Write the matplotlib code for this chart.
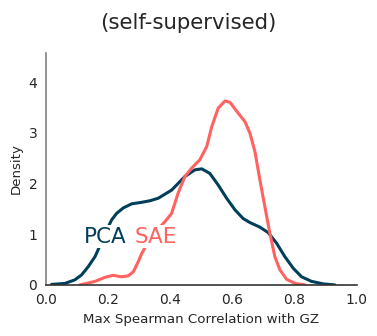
import matplotlib
matplotlib.use("Agg")
import matplotlib.pyplot as plt

# Density curves
pca_x = [0.019, 0.062, 0.094, 0.116, 0.137, 0.159, 0.175, 0.19, 0.212, 0.228, 0.250,
         0.277, 0.309, 0.335, 0.362, 0.405, 0.448, 0.480, 0.502, 0.528, 0.555,
         0.582, 0.609, 0.635, 0.657, 0.689, 0.716, 0.743, 0.769, 0.796, 0.823,
         0.855, 0.893, 0.930]
pca_y = [0.01, 0.03, 0.10, 0.20, 0.36, 0.56, 0.78, 1.00, 1.28, 1.41, 1.52,
         1.60, 1.63, 1.66, 1.71, 1.87, 2.14, 2.27, 2.29, 2.20, 1.97,
         1.71, 1.48, 1.31, 1.23, 1.14, 1.03, 0.82, 0.56, 0.33, 0.16,
         0.07, 0.02, 0.0]

sae_x = [0.11, 0.159, 0.191, 0.217, 0.244, 0.266, 0.282, 0.298, 0.309, 0.33, 0.355,
         0.384, 0.405, 0.426, 0.448, 0.469, 0.496, 0.518, 0.534, 0.555, 0.577,
         0.593, 0.619, 0.641, 0.657, 0.673, 0.689, 0.705, 0.721, 0.737, 0.753,
         0.775, 0.802, 0.834]
sae_y = [0.0, 0.07, 0.15, 0.19, 0.16, 0.18, 0.26, 0.46, 0.62, 0.85, 1.06,
         1.25, 1.41, 1.81, 2.14, 2.30, 2.47, 2.73, 3.12, 3.49, 3.63,
         3.60, 3.39, 3.22, 2.99, 2.63, 2.07, 1.54, 1.02, 0.56, 0.30,
         0.11, 0.03, 0.0]

labels = ["PCA", "SAE"]
colors = ["#003f5c", "#ff6361"]
label_pos = [(0.193, 0.95), (0.355, 0.95)]

fig = plt.figure(figsize=(3.77, 3.36), dpi=100)
ax = fig.add_axes([0.121, 0.152, 0.825, 0.691])

for (xs, ys), c in zip([(pca_x, pca_y), (sae_x, sae_y)], colors):
    ax.plot(xs, ys, color=c, lw=2.2, solid_joinstyle="round", solid_capstyle="round")

for lab, c, (lx, ly) in zip(labels, colors, label_pos):
    ax.text(lx, ly, lab, color=c, fontsize=15.5, ha="center", va="center",
            bbox=dict(facecolor="white", edgecolor="none", pad=1.0), zorder=5)

ax.set_xlim(0, 1.0)
ax.set_ylim(0, 4.58)
ax.set_xticks([0.0, 0.2, 0.4, 0.6, 0.8, 1.0])
ax.set_yticks([0, 1, 2, 3, 4])
ax.tick_params(length=0, labelsize=10, pad=6, colors="#262626")
ax.set_xlabel("Max Spearman Correlation with GZ", fontsize=9.6, color="#262626")
ax.set_ylabel("Density", fontsize=9.6, color="#262626")
for s in ["top", "right"]:
    ax.spines[s].set_visible(False)
ax.spines["left"].set_color("#808080")
ax.spines["left"].set_linewidth(1.2)
ax.spines["bottom"].set_color("#333333")
ax.spines["bottom"].set_linewidth(1.2)

fig.suptitle("(self-supervised)", fontsize=15.3, y=0.931, va="center", color="#262626")

fig.savefig("out.png", dpi=100)
